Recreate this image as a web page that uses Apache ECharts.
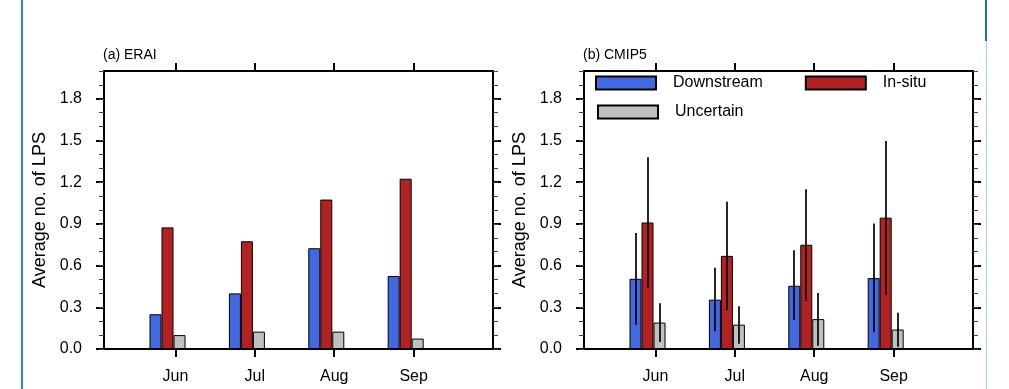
<!DOCTYPE html>
<html>
<head>
<meta charset="utf-8">
<script src="https://cdn.jsdelivr.net/npm/echarts@6/dist/echarts.min.js"></script>
<style>html,body{margin:0;padding:0;background:#fff}#c{width:1009px;height:389px}</style>
</head>
<body>
<div id="c"></div>
<script>
// ---- data ----
const months = ['Jun', 'Jul', 'Aug', 'Sep'];
const monthPos = [1, 2, 3, 4];
const yTicks = [0, 0.3, 0.6, 0.9, 1.2, 1.5, 1.8];
const seriesNames = ['Downstream', 'In-situ', 'Uncertain'];
const panelTitles = ['(a) ERAI', '(b) CMIP5'];
const yName = 'Average no. of LPS';

const eraiDown = [0.25, 0.40, 0.725, 0.525];
const eraiInsitu = [0.875, 0.775, 1.075, 1.225];
const eraiUnc = [0.10, 0.125, 0.125, 0.075];

const cmipDown = [0.505, 0.355, 0.455, 0.51];
const cmipInsitu = [0.91, 0.67, 0.75, 0.945];
const cmipUnc = [0.19, 0.175, 0.215, 0.14];

const cmipDownLo = [0.175, 0.127, 0.211, 0.12];
const cmipDownHi = [0.835, 0.585, 0.71, 0.902];
const cmipInsituLo = [0.441, 0.278, 0.346, 0.389];
const cmipInsituHi = [1.38, 1.06, 1.15, 1.497];
const cmipUncLo = [0.05, 0.038, 0.024, 0.017];
const cmipUncHi = [0.329, 0.307, 0.403, 0.261];

// ---- styles ----
const colors = ['#4169E1', '#B22222', '#C0C0C0'];
const FONT = 'Liberation Sans, Arial, Helvetica, sans-serif';
const grids = [
  { left: 104, top: 71, width: 389, height: 278 },
  { left: 584, top: 71, width: 389, height: 278 }
];

const xAxes = [], yAxes = [], series = [];
grids.forEach((g, gi) => {
  const xBase = {
    type: 'value', gridIndex: gi, min: 0.1, max: 5,
    splitLine: { show: false },
    axisLine: { show: true, onZero: false, lineStyle: { color: '#000', width: 2 } },
    axisTick: { show: true, inside: false, length: 8, customValues: monthPos, lineStyle: { color: '#000', width: 2 } }
  };
  xAxes.push(Object.assign({}, xBase, {
    position: 'bottom',
    axisLabel: { show: true, customValues: monthPos, formatter: v => months[Math.round(v) - 1],
      fontSize: 16, color: '#000', fontFamily: FONT, margin: 20 }
  }));
  xAxes.push(Object.assign({}, xBase, { position: 'top', axisLabel: { show: false } }));
  // hidden axis carrying the bars
  xAxes.push({ type: 'value', gridIndex: gi, min: 0.2, max: 5.1, show: false });

  ['left', 'right'].forEach(side => {
    yAxes.push({
      type: 'value', gridIndex: gi, min: 0, max: 2, position: side,
      splitLine: { show: false },
      axisLine: { show: true, onZero: false, lineStyle: { color: '#000', width: 2 } },
      axisTick: { show: true, inside: false, length: 8, customValues: yTicks, lineStyle: { color: '#000', width: 2 } },
      axisLabel: side === 'left' ? { show: true, customValues: yTicks, formatter: v => v.toFixed(1),
        fontSize: 16, color: '#000', fontFamily: FONT, margin: 22 } : { show: false },
      name: side === 'left' ? yName : '',
      nameLocation: 'middle', nameGap: 55, nameRotate: 90,
      nameTextStyle: { fontSize: 18, color: '#000', fontFamily: FONT }
    });
    yAxes.push({
      type: 'value', gridIndex: gi, min: 0, max: 2, interval: 0.1, position: side,
      splitLine: { show: false },
      axisLine: { show: false, onZero: false },
      axisTick: { show: true, inside: false, length: 5, lineStyle: { color: '#444', width: 1 } },
      axisLabel: { show: false }
    });
  });
});

function barSeries(name, data, gi, ci) {
  return {
    type: 'bar', name: name, xAxisIndex: gi * 3 + 2, yAxisIndex: gi * 4,
    data: data.map((v, i) => [monthPos[i], v]),
    barWidth: 12, barGap: '0%',
    itemStyle: { color: colors[ci], borderColor: '#000', borderWidth: 1 },
    emphasis: { disabled: true }, animation: false
  };
}
const erai = [eraiDown, eraiInsitu, eraiUnc];
const cmip = [cmipDown, cmipInsitu, cmipUnc];
seriesNames.forEach((n, ci) => series.push(barSeries(n, erai[ci], 0, ci)));
seriesNames.forEach((n, ci) => series.push(barSeries(n, cmip[ci], 1, ci)));

const errLo = [cmipDownLo, cmipInsituLo, cmipUncLo];
const errHi = [cmipDownHi, cmipInsituHi, cmipUncHi];
const errOffset = [-12, 0, 12];
errLo.forEach((lo, ci) => {
  series.push({
    type: 'custom', name: 'err' + ci, xAxisIndex: 5, yAxisIndex: 4, z: 5,
    data: lo.map((v, i) => [monthPos[i], v, errHi[ci][i]]),
    encode: { x: 0, y: [1, 2] },
    renderItem: (params, api) => {
      const p1 = api.coord([api.value(0), api.value(1)]);
      const p2 = api.coord([api.value(0), api.value(2)]);
      const x = Math.round(p1[0] + errOffset[ci]);
      return { type: 'line', shape: { x1: x, y1: p1[1], x2: x, y2: p2[1] },
        style: { stroke: '#000', lineWidth: 1.7 } };
    },
    animation: false
  });
});

const legendCommon = {
  itemWidth: 60, itemHeight: 13, icon: 'rect', selectedMode: false,
  textStyle: { fontSize: 16, color: '#000', fontFamily: FONT, padding: [0, 0, 0, 12] }
};

const option = {
  backgroundColor: '#fff',
  animation: false,
  title: panelTitles.map((t, i) => ({
    text: t, left: grids[i].left - 6, top: 43,
    textStyle: { fontSize: 14, fontWeight: 'normal', color: '#000', fontFamily: FONT }
  })),
  legend: [
    Object.assign({}, legendCommon, { data: [seriesNames[0], seriesNames[1]], left: 590, top: 70, itemGap: 42, orient: 'horizontal' }),
    Object.assign({}, legendCommon, { data: [seriesNames[2]], left: 592, top: 99 })
  ],
  grid: grids,
  xAxis: xAxes,
  yAxis: yAxes,
  series: series,
  graphic: [
    { type: 'rect', left: 21, top: 0, shape: { width: 2, height: 389 }, style: { fill: '#2f86d0' }, silent: true },
    { type: 'rect', left: 985, top: 0, shape: { width: 2, height: 41 }, style: { fill: '#1a73c9' }, silent: true },
    { type: 'rect', left: 986, top: 41, shape: { width: 1, height: 348 }, style: { fill: '#a8cbe8' }, silent: true }
  ]
};

const chart = echarts.init(document.getElementById('c'), null, { renderer: 'canvas' });
chart.setOption(option);
</script>
</body>
</html>
